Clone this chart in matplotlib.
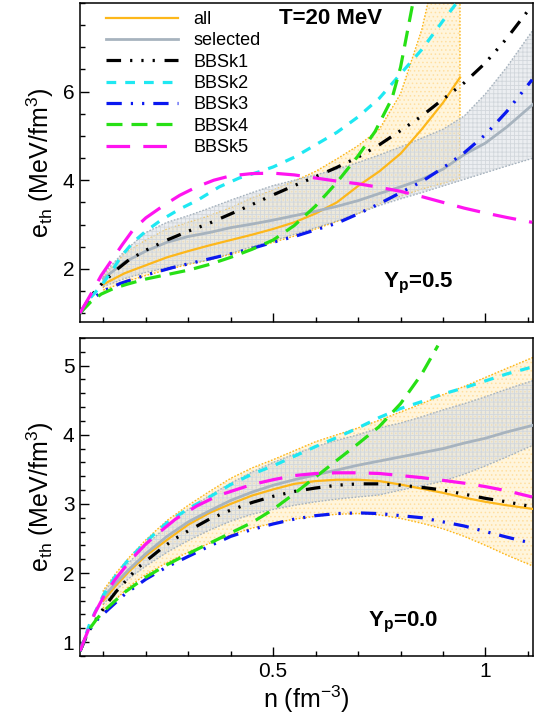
import numpy as np
import matplotlib
matplotlib.use("Agg")
import matplotlib.pyplot as plt
from matplotlib.ticker import MultipleLocator, FixedLocator, FuncFormatter

plt.rcParams['font.family'] = ['Liberation Sans', 'DejaVu Sans']
plt.rcParams['mathtext.fontset'] = 'custom'
plt.rcParams['mathtext.rm'] = 'Liberation Sans'
plt.rcParams['mathtext.it'] = 'Liberation Sans:italic'
plt.rcParams['mathtext.bf'] = 'Liberation Sans:bold'
plt.rcParams['lines.scale_dashes'] = False
plt.rcParams['hatch.linewidth'] = 0.6

# ---------------- Y_p = 0.5 (upper panel) ----------------
n_k1_a = [0.045, 0.07, 0.1, 0.13, 0.16, 0.2, 0.25, 0.3, 0.35, 0.4, 0.45, 0.5, 0.55, 0.6,
          0.65, 0.7, 0.75, 0.8, 0.85, 0.9, 0.95, 1.0, 1.05, 1.11]
e_k1_a = [1.0, 1.38, 1.7, 1.97, 2.2, 2.42, 2.65, 2.85, 3.03, 3.24, 3.45, 3.67, 3.88, 4.08,
          4.29, 4.52, 4.8, 5.12, 5.45, 5.83, 6.2, 6.65, 7.2, 7.95]

n_k2_a = [0.045, 0.07, 0.095, 0.12, 0.142, 0.17, 0.2, 0.236, 0.28, 0.322, 0.373, 0.42, 0.47,
          0.5, 0.55, 0.6, 0.65, 0.7, 0.75, 0.8, 0.85, 0.9, 0.94]
e_k2_a = [1.0, 1.35, 1.62, 1.95, 2.28, 2.6, 2.85, 3.1, 3.35, 3.55, 3.85, 4.05, 4.2,
          4.3, 4.52, 4.8, 5.08, 5.43, 5.85, 6.4, 6.95, 7.6, 8.1]

n_k3_a = [0.045, 0.07, 0.1, 0.14, 0.2, 0.26, 0.33, 0.4, 0.45, 0.5, 0.55, 0.6, 0.65, 0.7,
          0.75, 0.8, 0.85, 0.9, 0.95, 1.0, 1.05, 1.11]
e_k3_a = [1.0, 1.3, 1.5, 1.67, 1.86, 2.02, 2.18, 2.34, 2.46, 2.6, 2.73, 2.88, 3.03, 3.24,
          3.47, 3.72, 3.97, 4.28, 4.62, 5.03, 5.55, 6.27]

n_k4_a = [0.045, 0.07, 0.095, 0.125, 0.155, 0.2, 0.25, 0.3, 0.35, 0.4, 0.45, 0.5, 0.55, 0.6,
          0.65, 0.7, 0.74, 0.78, 0.8, 0.83, 0.84]
e_k4_a = [1.0, 1.25, 1.43, 1.56, 1.65, 1.77, 1.87, 1.97, 2.1, 2.26, 2.44, 2.65, 2.98, 3.42,
          3.95, 4.55, 5.1, 5.85, 6.55, 8.05, 8.5]

n_k5_a = [0.045, 0.072, 0.095, 0.12, 0.145, 0.17, 0.2, 0.245, 0.28, 0.32, 0.36, 0.4, 0.45,
          0.5, 0.55, 0.6, 0.65, 0.7, 0.75, 0.8, 0.85, 0.9, 0.95, 1.0, 1.05, 1.11]
e_k5_a = [1.0, 1.45, 1.85, 2.2, 2.55, 2.88, 3.15, 3.45, 3.66, 3.85, 4.0, 4.1, 4.15,
          4.16, 4.12, 4.05, 3.98, 3.92, 3.84, 3.75, 3.63, 3.5, 3.37, 3.26, 3.16, 3.05]

# "all" family: central line and band (ends at n = 0.94)
n_all_a = [0.1, 0.15, 0.2, 0.25, 0.3, 0.35, 0.4, 0.45, 0.5, 0.55, 0.6, 0.65, 0.7, 0.75,
           0.8, 0.85, 0.9, 0.94]
e_all_a = [1.65, 1.9, 2.08, 2.26, 2.4, 2.53, 2.65, 2.77, 2.9, 3.05, 3.25, 3.5, 3.87, 4.2,
           4.6, 5.15, 5.75, 6.32]
e_all_hi_a = [1.82, 2.35, 2.65, 2.9, 3.05, 3.2, 3.38, 3.6, 3.78, 3.98, 4.2, 4.48, 4.78, 5.15,
              5.95, 7.4, 9.5, 12.0]
e_all_lo_a = [1.52, 1.7, 1.85, 1.98, 2.1, 2.2, 2.33, 2.46, 2.6, 2.74, 2.9, 3.07, 3.25, 3.47,
              3.64, 3.8, 3.93, 4.05]

# "selected" family
n_sel_a = [0.1, 0.15, 0.2, 0.25, 0.3, 0.35, 0.4, 0.45, 0.5, 0.55, 0.6, 0.65, 0.7, 0.75,
           0.8, 0.85, 0.9, 0.95, 1.0, 1.05, 1.12]
e_sel_a = [1.78, 2.15, 2.4, 2.6, 2.73, 2.82, 2.93, 3.01, 3.1, 3.2, 3.3, 3.41, 3.54, 3.7,
           3.85, 4.02, 4.25, 4.58, 4.84, 5.2, 5.78]
e_sel_hi_a = [1.88, 2.4, 2.82, 3.05, 3.2, 3.37, 3.55, 3.72, 3.88, 4.0, 4.12, 4.25, 4.4, 4.57,
              4.75, 4.95, 5.15, 5.45, 5.95, 6.55, 7.5]
e_sel_lo_a = [1.6, 1.78, 1.92, 2.03, 2.12, 2.2, 2.35, 2.5, 2.63, 2.78, 2.93, 3.08, 3.25, 3.43,
              3.58, 3.72, 3.87, 4.02, 4.17, 4.32, 4.52]

# ---------------- Y_p = 0.0 (lower panel) ----------------
n_k1_b = [0.045, 0.065, 0.087, 0.11, 0.13, 0.155, 0.18, 0.21, 0.24, 0.27, 0.3, 0.35, 0.4,
          0.45, 0.5, 0.55, 0.6, 0.65, 0.7, 0.75, 0.8, 0.85, 0.9, 0.95, 1.0, 1.05, 1.11]
e_k1_b = [0.87, 1.15, 1.37, 1.57, 1.73, 1.9, 2.07, 2.22, 2.37, 2.5, 2.61, 2.78, 2.91,
          3.02, 3.11, 3.18, 3.23, 3.27, 3.29, 3.29, 3.27, 3.24, 3.2, 3.14, 3.08, 3.03, 2.96]

n_k2_b = [0.045, 0.07, 0.1, 0.13, 0.16, 0.2, 0.25, 0.3, 0.35, 0.4, 0.45, 0.5, 0.55, 0.6,
          0.65, 0.7, 0.75, 0.8, 0.85, 0.9, 0.95, 1.0, 1.05, 1.11]
e_k2_b = [0.87, 1.3, 1.68, 1.97, 2.2, 2.45, 2.73, 2.93, 3.1, 3.28, 3.43, 3.55, 3.69, 3.83,
          3.96, 4.1, 4.25, 4.38, 4.48, 4.59, 4.68, 4.78, 4.88, 4.98]

n_k3_b = [0.045, 0.064, 0.085, 0.111, 0.15, 0.2, 0.25, 0.3, 0.35, 0.4, 0.45, 0.5, 0.55, 0.6,
          0.65, 0.7, 0.75, 0.8, 0.85, 0.9, 0.95, 1.0, 1.05, 1.11]
e_k3_b = [0.87, 1.15, 1.32, 1.47, 1.69, 1.91, 2.09, 2.24, 2.39, 2.53, 2.63, 2.71, 2.78, 2.83,
          2.86, 2.87, 2.86, 2.83, 2.8, 2.74, 2.68, 2.6, 2.52, 2.43]

n_k4_b = [0.045, 0.065, 0.085, 0.11, 0.15, 0.2, 0.25, 0.3, 0.35, 0.4, 0.45, 0.5, 0.55, 0.6,
          0.65, 0.7, 0.75, 0.8, 0.85, 0.888]
e_k4_b = [0.87, 1.17, 1.34, 1.5, 1.72, 1.94, 2.12, 2.28, 2.43, 2.58, 2.73, 2.92, 3.15, 3.39,
          3.63, 3.87, 4.12, 4.45, 4.88, 5.29]

n_k5_b = [0.045, 0.08, 0.1, 0.127, 0.166, 0.2, 0.228, 0.27, 0.32, 0.37, 0.41, 0.45, 0.5,
          0.55, 0.6, 0.65, 0.7, 0.75, 0.8, 0.85, 0.9, 0.95, 1.0, 1.05, 1.11]
e_k5_b = [0.87, 1.42, 1.65, 1.9, 2.2, 2.42, 2.57, 2.78, 2.97, 3.12, 3.2, 3.28, 3.35,
          3.41, 3.44, 3.45, 3.45, 3.44, 3.41, 3.38, 3.34, 3.3, 3.25, 3.19, 3.1]

n_all_b = [0.1, 0.13, 0.16, 0.2, 0.25, 0.3, 0.35, 0.4, 0.45, 0.5, 0.55, 0.6, 0.65, 0.7,
           0.75, 0.8, 0.85, 0.9, 0.95, 1.0, 1.05, 1.12]
e_all_b = [1.6, 1.82, 2.02, 2.25, 2.48, 2.7, 2.87, 3.0, 3.12, 3.21, 3.29, 3.33, 3.35, 3.35,
           3.33, 3.28, 3.22, 3.16, 3.09, 3.03, 2.98, 2.92]
e_all_hi_b = [1.75, 2.0, 2.22, 2.48, 2.76, 2.98, 3.18, 3.37, 3.52, 3.64, 3.77, 3.9, 4.0, 4.1,
              4.21, 4.33, 4.45, 4.58, 4.7, 4.83, 4.96, 5.14]
e_all_lo_b = [1.45, 1.62, 1.8, 1.98, 2.15, 2.3, 2.43, 2.55, 2.65, 2.72, 2.78, 2.82, 2.85, 2.86,
              2.84, 2.79, 2.72, 2.64, 2.53, 2.4, 2.26, 2.08]

n_sel_b = [0.1, 0.13, 0.16, 0.2, 0.25, 0.3, 0.35, 0.4, 0.45, 0.5, 0.55, 0.6, 0.65, 0.7,
           0.75, 0.8, 0.85, 0.9, 0.95, 1.0, 1.05, 1.12]
e_sel_b = [1.65, 1.86, 2.05, 2.28, 2.53, 2.74, 2.9, 3.05, 3.17, 3.27, 3.35, 3.42, 3.49, 3.56,
           3.62, 3.68, 3.74, 3.8, 3.88, 3.95, 4.04, 4.15]
e_sel_hi_b = [1.72, 1.95, 2.15, 2.4, 2.68, 2.92, 3.12, 3.3, 3.46, 3.6, 3.72, 3.83, 3.92, 4.0,
              4.1, 4.17, 4.26, 4.36, 4.45, 4.55, 4.66, 4.8]
e_sel_lo_b = [1.55, 1.75, 1.92, 2.1, 2.3, 2.47, 2.62, 2.75, 2.85, 2.92, 2.98, 3.03, 3.07, 3.1,
              3.13, 3.2, 3.26, 3.33, 3.43, 3.55, 3.68, 3.87]

labels = ['all', 'selected', 'BBSk1', 'BBSk2', 'BBSk3', 'BBSk4', 'BBSk5']
yticks_a = [2, 4, 6]
yticks_b = [1, 2, 3, 4, 5]

# colours and dash patterns (in points)
c_all, c_sel = '#FDB71A', '#A7B3BE'
styles = {
    'BBSk1': dict(color='black', dashes=(10.5, 6.5, 1.6, 6.5, 1.6, 6.5, 1.6, 7)),
    'BBSk2': dict(color='#1FE8F2', dashes=(7, 6.5)),
    'BBSk3': dict(color='#0A18F0', dashes=(11, 6.5, 1.6, 6.5, 1.6, 6.5)),
    'BBSk4': dict(color='#27E015', dashes=(11.5, 6.5)),
    'BBSk5': dict(color='#FF14F0', dashes=(17, 9.5)),
}


def draw_band(ax, n, lo, hi, face, hatch, hatch_col, edge_col, zorder):
    xs = list(n) + list(n[::-1])
    ys = list(lo) + list(hi[::-1])
    ax.fill(xs, ys, facecolor=face, edgecolor='none', zorder=zorder)
    ax.fill(xs, ys, facecolor='none', edgecolor=hatch_col, hatch=hatch,
            linewidth=0, zorder=zorder)
    ax.fill(xs, ys, facecolor='none', edgecolor=edge_col, linestyle=(0, (1.2, 1.2)),
            linewidth=1.0, zorder=zorder + 0.1)


def draw_panel(ax, d):
    draw_band(ax, d['n_all'], d['all_lo'], d['all_hi'], (1.0, 0.95, 0.82, 0.75),
              '....', '#FFDFA0', '#FDB71A', 1)
    draw_band(ax, d['n_sel'], d['sel_lo'], d['sel_hi'], (0.84, 0.86, 0.88, 0.45),
              '++++', '#D2D7DC', '#A7B3BE', 1.2)
    handles = []
    h, = ax.plot(d['n_all'], d['all'], color=c_all, lw=1.6, zorder=3)
    handles.append(h)
    h, = ax.plot(d['n_sel'], d['sel'], color=c_sel, lw=2.0, zorder=3)
    handles.append(h)
    for name in labels[2:]:
        n, e = d[name]
        h, = ax.plot(n, e, lw=2.3, zorder=4, **styles[name])
        handles.append(h)
    return handles


fig = plt.figure(figsize=(5.35, 7.21), dpi=100)
ax1 = fig.add_axes([0.1495, 0.5534, 0.8468, 0.4424])
ax2 = fig.add_axes([0.1495, 0.0902, 0.8468, 0.4410])

top = dict(n_all=n_all_a, all=e_all_a, all_lo=e_all_lo_a, all_hi=e_all_hi_a,
           n_sel=n_sel_a, sel=e_sel_a, sel_lo=e_sel_lo_a, sel_hi=e_sel_hi_a,
           BBSk1=(n_k1_a, e_k1_a), BBSk2=(n_k2_a, e_k2_a), BBSk3=(n_k3_a, e_k3_a),
           BBSk4=(n_k4_a, e_k4_a), BBSk5=(n_k5_a, e_k5_a))
bot = dict(n_all=n_all_b, all=e_all_b, all_lo=e_all_lo_b, all_hi=e_all_hi_b,
           n_sel=n_sel_b, sel=e_sel_b, sel_lo=e_sel_lo_b, sel_hi=e_sel_hi_b,
           BBSk1=(n_k1_b, e_k1_b), BBSk2=(n_k2_b, e_k2_b), BBSk3=(n_k3_b, e_k3_b),
           BBSk4=(n_k4_b, e_k4_b), BBSk5=(n_k5_b, e_k5_b))

handles = draw_panel(ax1, top)
draw_panel(ax2, bot)

for ax in (ax1, ax2):
    ax.set_xlim(0.045, 1.112)
    ax.xaxis.set_major_locator(MultipleLocator(0.5))
    ax.xaxis.set_minor_locator(MultipleLocator(0.1))
    ax.xaxis.set_major_formatter(FuncFormatter(lambda v, p: '%g' % v))
    ax.tick_params(which='both', direction='in', top=False, right=False,
                   labelsize=15, width=1.0, pad=4)
    ax.tick_params(which='major', length=6.5)
    ax.tick_params(which='minor', length=3.5)
    for s in ax.spines.values():
        s.set_linewidth(1.1)
    ax.set_ylabel(r'e$_\mathregular{th}$ (MeV/fm$^\mathregular{3}$)', fontsize=18, labelpad=5)

ax1.set_ylim(0.8, 8.0)
ax1.yaxis.set_major_locator(FixedLocator(yticks_a))
ax1.yaxis.set_minor_locator(MultipleLocator(0.5))
ax1.tick_params(axis='x', labelbottom=False)

ax2.set_ylim(0.8, 5.4)
ax2.yaxis.set_major_locator(FixedLocator(yticks_b))
ax2.yaxis.set_minor_locator(MultipleLocator(0.2))
ax2.set_xlabel(r'n (fm$^\mathregular{-3}$)', fontsize=18, labelpad=2)

ax1.text(0.44, 0.953, 'T=20 MeV', transform=ax1.transAxes, fontsize=16,
         fontweight='bold', ha='left', va='center')
ax1.text(0.746, 0.122, r'Y$_\mathbf{p}$=0.5', transform=ax1.transAxes, fontsize=16,
         fontweight='bold', ha='center', va='center')
ax2.text(0.713, 0.104, r'Y$_\mathbf{p}$=0.0', transform=ax2.transAxes, fontsize=16,
         fontweight='bold', ha='center', va='center')

ax1.legend(handles, labels, loc='upper left', bbox_to_anchor=(0.057, 0.975),
           frameon=False, fontsize=13, handlelength=4.0, handletextpad=0.85,
           labelspacing=0.24, borderpad=0, borderaxespad=0)

fig.savefig('out.png', dpi=100)
